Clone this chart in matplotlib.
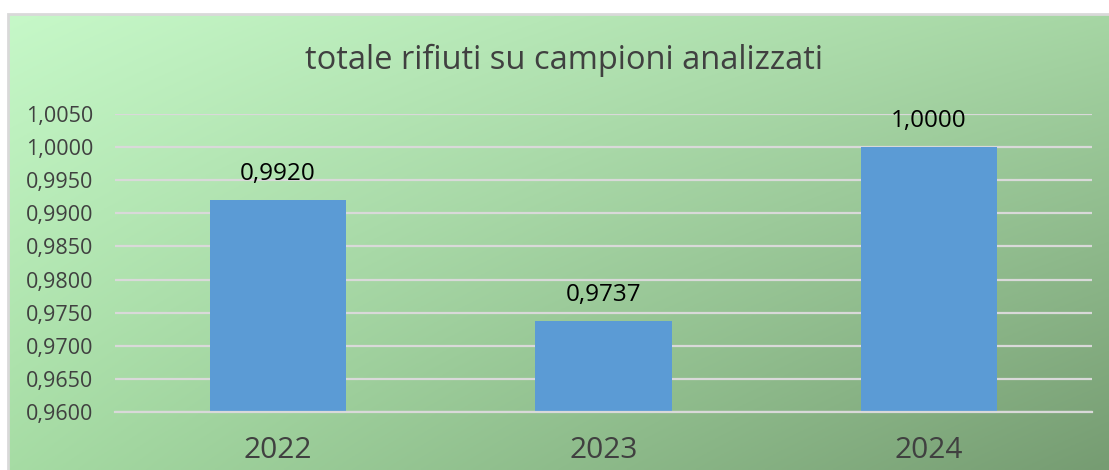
import numpy as np
import matplotlib
matplotlib.use("Agg")
import matplotlib.pyplot as plt
from matplotlib.ticker import FuncFormatter, MultipleLocator
from matplotlib.patches import Rectangle

plt.rcParams['font.family'] = ['Open Sans', 'DejaVu Sans']

# Data
years = ["2022", "2023", "2024"]
values = [0.9920, 0.9737, 1.0000]
title = "totale rifiuti su campioni analizzati"

W, H = 1109, 470
fig = plt.figure(figsize=(W / 100, H / 100), dpi=100, facecolor="white")

# Chart area background: diagonal green gradient inside a thin grey frame
bx0, by1 = 8 / W, (H - 14) / H
bg = fig.add_axes([bx0, 0, 1 - bx0, by1], zorder=0)
ny, nx = 200, 400
u = np.linspace(0, 1, nx)[None, :, None]
v = np.linspace(0, 1, ny)[:, None, None]
tl = np.array([198, 248, 200]) / 255
tr = np.array([166, 214, 164]) / 255
bl = np.array([166, 220, 164]) / 255
br = np.array([118, 156, 114]) / 255
img = (tl * (1 - u) * (1 - v) + tr * u * (1 - v) + bl * (1 - u) * v + br * u * v)
bg.imshow(img, aspect="auto", extent=[0, 1, 0, 1], origin="upper")
bg.set_xlim(0, 1)
bg.set_ylim(0, 1)
bg.axis("off")
fig.add_artist(Rectangle((bx0, -0.1), 1.2, by1 + 0.1, transform=fig.transFigure,
                         fill=False, edgecolor="#D9D9D9", linewidth=2, zorder=1))

fig.text(564 / W, 1 - 60 / H, title, ha="center", va="center",
         fontsize=23.5, color="#404040")

# Plot area
left, right = 115.25, 1091.75
top, bottom = 114, 412
ax = fig.add_axes([left / W, 1 - bottom / H, (right - left) / W, (bottom - top) / H], zorder=2)
ax.patch.set_alpha(0)

x = np.arange(len(years))
bars = ax.bar(x, values, width=0.418, color="#5B9BD5", zorder=2)
ax.set_xlim(-0.5, len(years) - 0.5)
ax.set_ylim(0.96, 1.005)
ax.yaxis.set_major_locator(MultipleLocator(0.005))
ax.yaxis.set_major_formatter(FuncFormatter(lambda val, pos: f"{val:.4f}".replace(".", ",")))
ax.grid(axis="y", color="#D9D9D9", linewidth=1.6, zorder=1)
ax.set_axisbelow(True)
for s in ["top", "right", "left"]:
    ax.spines[s].set_visible(False)
ax.spines["bottom"].set_color("#D9D9D9")
ax.spines["bottom"].set_linewidth(1.6)
ax.spines["bottom"].set_zorder(3)

ax.set_xticks(x)
ax.set_xticklabels(years)
ax.tick_params(axis="x", length=0, pad=17, labelsize=21.5, labelcolor="#404040")
ax.tick_params(axis="y", length=0, pad=16, labelsize=15.5, labelcolor="#404040")

for xi, val in zip(x, values):
    ax.annotate(f"{val:.4f}".replace(".", ","), (xi, val), xytext=(0, 10),
                textcoords="offset points", ha="center", va="bottom",
                fontsize=17.5, color="black")

fig.savefig("out.png", dpi=100, facecolor="white")
